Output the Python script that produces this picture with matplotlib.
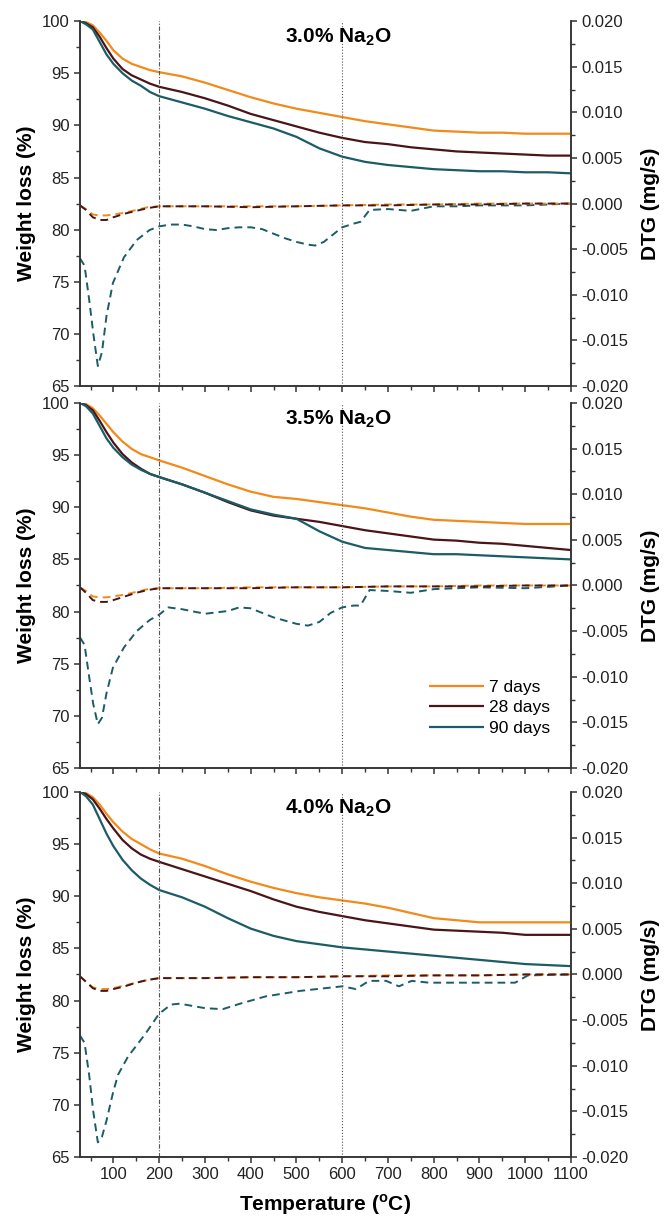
import numpy as np
import matplotlib.pyplot as plt
from matplotlib.ticker import MultipleLocator, FormatStrFormatter

plt.rcParams['font.family'] = ['Liberation Sans', 'DejaVu Sans']
plt.rcParams['mathtext.fontset'] = 'custom'
plt.rcParams['mathtext.rm'] = 'Liberation Sans'
plt.rcParams['mathtext.bf'] = 'Liberation Sans:bold'

C7 = '#F28A1A'
C28 = '#4A1418'
C90 = '#1B5C66'

# TG curves (weight %) on a shared temperature grid
temp = [27, 40, 55, 70, 85, 100, 120, 140, 160, 180, 200, 250, 300, 350, 400, 450,
        500, 550, 600, 650, 700, 750, 800, 850, 900, 950, 1000, 1050, 1100]

tg30_7 = [100.0, 99.9, 99.6, 98.9, 98.1, 97.2, 96.4, 95.9, 95.6, 95.3, 95.1, 94.7, 94.1, 93.4, 92.7,
          92.1, 91.6, 91.2, 90.8, 90.4, 90.1, 89.8, 89.5, 89.4, 89.3, 89.3, 89.2, 89.2, 89.2]
tg30_28 = [100.0, 99.8, 99.4, 98.5, 97.4, 96.4, 95.4, 94.8, 94.4, 94.0, 93.7, 93.2, 92.6, 91.9, 91.1,
           90.5, 89.9, 89.3, 88.8, 88.4, 88.2, 87.9, 87.7, 87.5, 87.4, 87.3, 87.2, 87.1, 87.1]
tg30_90 = [100.0, 99.7, 99.2, 98.0, 96.8, 95.9, 95.0, 94.3, 93.8, 93.2, 92.8, 92.2, 91.6, 90.9, 90.3,
           89.7, 88.9, 87.8, 87.0, 86.5, 86.2, 86.0, 85.8, 85.7, 85.6, 85.6, 85.5, 85.5, 85.4]

tg35_7 = [100.0, 99.9, 99.5, 98.8, 98.0, 97.2, 96.3, 95.6, 95.1, 94.8, 94.5, 93.8, 93.0, 92.2, 91.5,
          91.0, 90.8, 90.5, 90.2, 89.9, 89.5, 89.1, 88.8, 88.7, 88.6, 88.5, 88.4, 88.4, 88.4]
tg35_28 = [100.0, 99.8, 99.3, 98.3, 97.2, 96.2, 95.1, 94.3, 93.7, 93.2, 92.9, 92.2, 91.4, 90.5, 89.7,
           89.2, 88.9, 88.6, 88.2, 87.8, 87.5, 87.2, 86.9, 86.8, 86.6, 86.5, 86.3, 86.1, 85.9]
tg35_90 = [100.0, 99.7, 99.0, 97.8, 96.6, 95.7, 94.8, 94.1, 93.6, 93.2, 92.9, 92.2, 91.4, 90.6, 89.8,
           89.3, 88.9, 87.7, 86.7, 86.1, 85.9, 85.7, 85.5, 85.5, 85.4, 85.3, 85.2, 85.1, 85.0]

tg40_7 = [100.0, 99.9, 99.5, 98.8, 97.9, 97.1, 96.2, 95.5, 95.0, 94.5, 94.1, 93.6, 92.9, 92.1, 91.4,
          90.8, 90.3, 89.9, 89.6, 89.3, 88.9, 88.4, 87.9, 87.7, 87.5, 87.5, 87.5, 87.5, 87.5]
tg40_28 = [100.0, 99.8, 99.3, 98.4, 97.4, 96.5, 95.4, 94.6, 94.0, 93.6, 93.3, 92.6, 91.9, 91.2, 90.5,
           89.7, 89.0, 88.5, 88.1, 87.7, 87.4, 87.1, 86.8, 86.7, 86.6, 86.5, 86.3, 86.3, 86.3]
tg40_90 = [100.0, 99.6, 98.8, 97.4, 96.0, 94.8, 93.5, 92.5, 91.7, 91.1, 90.6, 89.9, 89.0, 87.9, 86.9,
           86.2, 85.7, 85.4, 85.1, 84.9, 84.7, 84.5, 84.3, 84.1, 83.9, 83.7, 83.5, 83.4, 83.3]

# DTG (mg/s) for 7 and 28 days
dtg_temp = [27, 40, 55, 70, 85, 100, 125, 150, 175, 200, 300, 400, 500, 600, 700, 800, 900, 1000, 1100]

dtg30_7 = [-0.0002, -0.0006, -0.0012, -0.0013, -0.0013, -0.0012, -0.0010, -0.0007, -0.0004, -0.0003,
           -0.0003, -0.0003, -0.0003, -0.0002, -0.0001, -0.0001, 0.0, 0.0, 0.0]
dtg30_28 = [-0.0002, -0.0007, -0.0015, -0.0018, -0.0018, -0.0015, -0.0011, -0.0008, -0.0005, -0.0003,
            -0.0003, -0.0004, -0.0003, -0.0002, -0.0002, -0.0001, -0.0001, 0.0, 0.0]
dtg35_7 = [-0.0002, -0.0006, -0.0012, -0.0013, -0.0013, -0.0012, -0.0010, -0.0007, -0.0004, -0.0003,
           -0.0003, -0.0002, -0.0002, -0.0002, -0.0001, -0.0001, 0.0, 0.0, 0.0]
dtg35_28 = [-0.0002, -0.0008, -0.0016, -0.0018, -0.0018, -0.0016, -0.0012, -0.0008, -0.0005, -0.0003,
            -0.0003, -0.0003, -0.0002, -0.0002, -0.0001, -0.0001, -0.0001, 0.0, 0.0]
dtg40_7 = [-0.0002, -0.0008, -0.0014, -0.0016, -0.0016, -0.0015, -0.0012, -0.0009, -0.0006, -0.0004,
           -0.0004, -0.0003, -0.0003, -0.0002, -0.0001, -0.0001, -0.0001, 0.0, 0.0]
dtg40_28 = [-0.0002, -0.0008, -0.0015, -0.0018, -0.0018, -0.0016, -0.0013, -0.0009, -0.0006, -0.0004,
            -0.0004, -0.0003, -0.0003, -0.0002, -0.0002, -0.0001, -0.0001, 0.0, 0.0]

# DTG for 90 days
dtg30_90_t = [27, 37, 47, 56, 66, 75, 85, 99, 123, 151, 179, 200, 225, 250, 275, 300, 325, 350, 375, 400,
              425, 450, 475, 500, 525, 541, 560, 580, 600, 625, 640, 660, 700, 750, 800, 850, 900, 950,
              1000, 1050, 1100]
dtg30_90 = [-0.0060, -0.0068, -0.0105, -0.0142, -0.0178, -0.0163, -0.0123, -0.0087, -0.0059, -0.0040,
            -0.0029, -0.0025, -0.0023, -0.0023, -0.0025, -0.0028, -0.0029, -0.0027, -0.0026, -0.0026,
            -0.0028, -0.0033, -0.0038, -0.0042, -0.0045, -0.0046, -0.0042, -0.0034, -0.0026, -0.0022,
            -0.0020, -0.0007, -0.0006, -0.0008, -0.0003, -0.0003, -0.0002, -0.0002, -0.0002, -0.0001, 0.0]

dtg35_90_t = [27, 37, 47, 56, 66, 75, 85, 99, 123, 151, 179, 200, 220, 250, 300, 350, 375, 400, 450, 500,
              525, 550, 575, 600, 625, 640, 660, 700, 750, 800, 900, 1000, 1100]
dtg35_90 = [-0.0057, -0.0065, -0.0100, -0.0130, -0.0152, -0.0145, -0.0118, -0.0090, -0.0068, -0.0050,
            -0.0038, -0.0032, -0.0024, -0.0026, -0.0031, -0.0028, -0.0024, -0.0025, -0.0035, -0.0042,
            -0.0044, -0.0040, -0.0030, -0.0024, -0.0022, -0.0022, -0.0005, -0.0006, -0.0008, -0.0004,
            -0.0002, -0.0003, 0.0]

dtg40_90_t = [27, 37, 47, 56, 66, 75, 85, 99, 110, 132, 170, 200, 226, 245, 301, 339, 377, 433, 508, 600,
              630, 659, 696, 724, 752, 790, 884, 978, 1006, 1100]
dtg40_90 = [-0.0067, -0.0075, -0.0110, -0.0150, -0.0184, -0.0178, -0.0160, -0.0130, -0.0110, -0.0090,
            -0.0065, -0.0043, -0.0033, -0.0032, -0.0037, -0.0038, -0.0032, -0.0024, -0.0018, -0.0013,
            -0.0016, -0.0007, -0.0007, -0.0013, -0.0007, -0.0009, -0.0009, -0.0009, -0.0001, 0.0]

panels = [
    ('3.0', (tg30_7, tg30_28, tg30_90), (dtg30_7, dtg30_28), (dtg30_90_t, dtg30_90)),
    ('3.5', (tg35_7, tg35_28, tg35_90), (dtg35_7, dtg35_28), (dtg35_90_t, dtg35_90)),
    ('4.0', (tg40_7, tg40_28, tg40_90), (dtg40_7, dtg40_28), (dtg40_90_t, dtg40_90)),
]
labels = ['7 days', '28 days', '90 days']
colors = [C7, C28, C90]

fig = plt.figure(figsize=(6.71, 12.19), dpi=100)
bottoms = [0.6833, 0.370, 0.0509]
height = 0.2994
left, width = 0.1192, 0.7317
spine_col = '#333333'
dash = (0, (4, 2.6))

for i, (na, tgs, dtgs, dtg90) in enumerate(panels):
    ax = fig.add_axes([left, bottoms[i], width, height])
    ax2 = ax.twinx()
    ax.set_zorder(ax2.get_zorder() + 1)
    ax.patch.set_visible(False)

    for y, c, lab in zip(tgs, colors, labels):
        ax.plot(temp, y, color=c, lw=1.6, label=lab, solid_capstyle='butt')

    ax2.plot(dtg90[0], dtg90[1], color=C90, lw=1.4, linestyle=dash)
    ax2.plot(dtg_temp, dtgs[0], color=C7, lw=1.4, linestyle=dash)
    ax2.plot(dtg_temp, dtgs[1], color=C28, lw=1.4, linestyle=dash)

    ax.axvline(200, color='#555555', lw=0.8, linestyle='-.', dashes=(4, 1.5, 1, 1.5))
    ax.axvline(600, color='#555555', lw=0.8, linestyle=':')

    ax.set_xlim(27, 1100)
    ax.set_ylim(65, 100)
    ax2.set_ylim(-0.020, 0.020)

    ax.xaxis.set_major_locator(MultipleLocator(100))
    ax.xaxis.set_minor_locator(MultipleLocator(50))
    ax.yaxis.set_major_locator(MultipleLocator(5))
    ax.yaxis.set_minor_locator(MultipleLocator(2.5))
    ax2.yaxis.set_major_locator(MultipleLocator(0.005))
    ax2.yaxis.set_minor_locator(MultipleLocator(0.0025))
    ax2.yaxis.set_major_formatter(FormatStrFormatter('%.3f'))

    for a in (ax, ax2):
        a.spines['top'].set_visible(False)
        for s in a.spines.values():
            s.set_color(spine_col)
            s.set_linewidth(1.1)
        a.tick_params(which='major', direction='out', length=4.5, width=1.1, color=spine_col,
                      labelsize=12, labelcolor='#222222', pad=3)
        a.tick_params(which='minor', direction='out', length=2.8, width=1.0, color=spine_col)

    if i < 2:
        ax.tick_params(axis='x', labelbottom=False)
    else:
        ax.set_xlabel(r'Temperature ($^{\mathbf{o}}$C)', fontsize=15, fontweight='bold', labelpad=7)

    ax.set_ylabel('Weight loss (%)', fontsize=15, fontweight='bold', labelpad=4)
    ax2.set_ylabel('DTG (mg/s)', fontsize=15, fontweight='bold', labelpad=9)

    ax.text(0.525, 0.985, na + r'% Na$_\mathbf{2}$O', transform=ax.transAxes, ha='center', va='top',
            fontsize=15, fontweight='bold')

    if i == 1:
        ax.legend(loc='center left', bbox_to_anchor=(0.71, 0.165), frameon=False, fontsize=12.5,
                  handlelength=3.2, handletextpad=0.3, labelspacing=0.3, borderaxespad=0,
                  borderpad=0)

fig.savefig('out.png', dpi=100)
